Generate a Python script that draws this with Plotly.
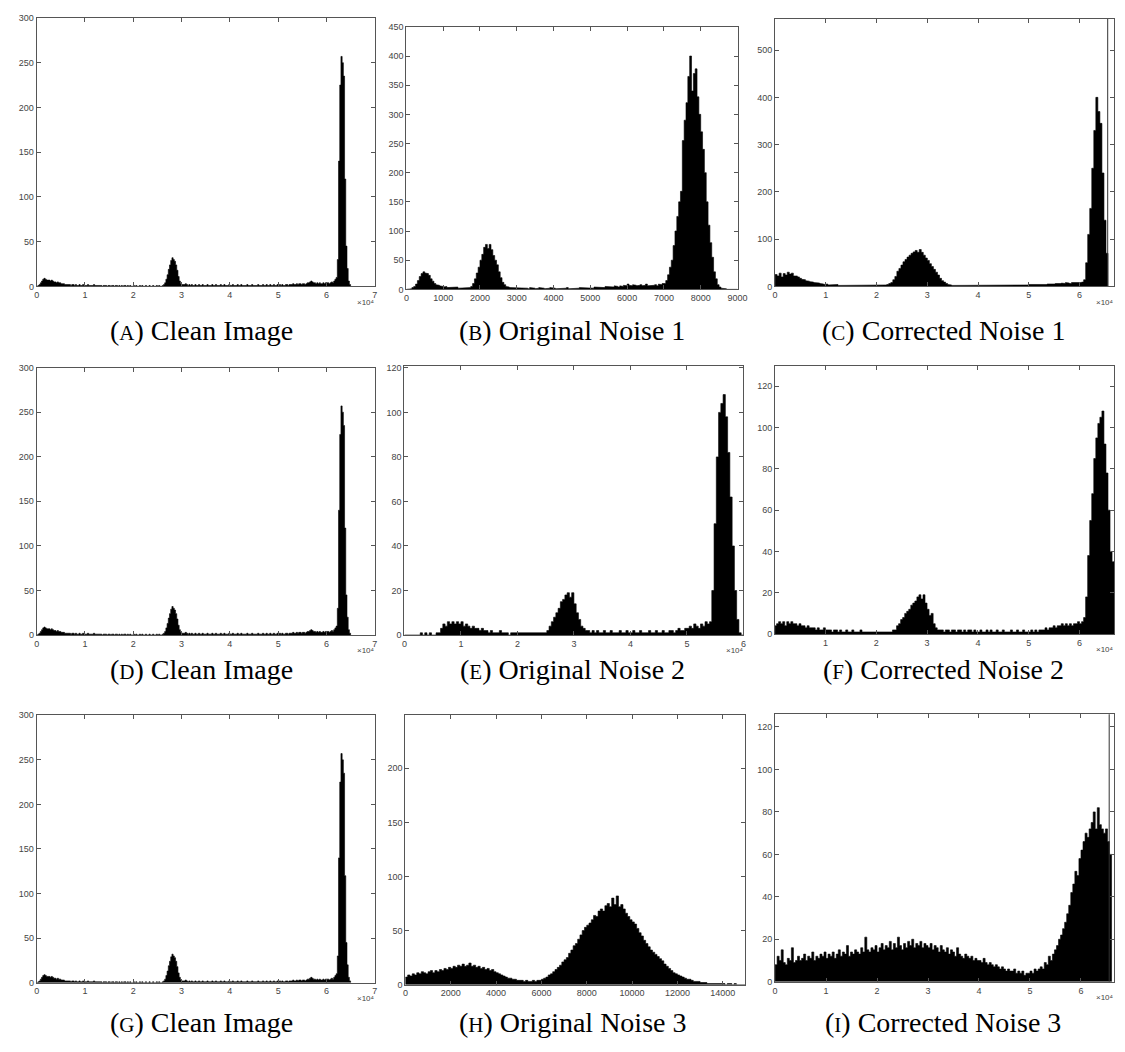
import plotly.graph_objects as go

W, H = 1125, 1052

# ---------------- data (histogram bin counts) ----------------
clean_start, clean_width = 0, 250
clean_counts = [
    0, 1, 2, 4, 6, 8, 9, 8, 7, 7, 7, 6, 7, 6, 5, 5, 4, 5, 4, 4,
    3, 3, 3, 2, 2, 2, 2, 2, 1, 2, 2, 1, 2, 1, 1, 2, 1, 1, 2, 1,
    1, 1, 2, 1, 1, 1, 1, 2, 1, 1, 1, 1, 1, 1, 0, 1, 1, 1, 0, 1,
    1, 0, 1, 1, 0, 1, 1, 0, 1, 0, 1, 0, 1, 1, 0, 1, 0, 1, 0, 0,
    1, 0, 1, 0, 0, 1, 0, 1, 0, 0, 1, 0, 0, 1, 0, 0, 1, 0, 0, 1,
    0, 1, 0, 0, 1, 2, 4, 8, 13, 19, 24, 29, 32, 30, 28, 24, 18, 11, 6, 3,
    2, 2, 2, 3, 2, 1, 2, 1, 2, 1, 1, 2, 1, 1, 2, 1, 1, 2, 1, 1,
    1, 2, 1, 1, 1, 2, 1, 1, 2, 1, 1, 1, 2, 1, 1, 2, 1, 1, 1, 2,
    1, 1, 2, 1, 1, 1, 2, 1, 1, 2, 1, 1, 1, 1, 2, 1, 1, 1, 2, 1,
    1, 1, 1, 2, 1, 1, 1, 2, 1, 1, 2, 1, 1, 2, 1, 1, 2, 1, 1, 2,
    1, 2, 1, 2, 1, 1, 2, 2, 1, 2, 2, 2, 3, 2, 2, 3, 2, 3, 3, 2,
    3, 3, 2, 3, 4, 4, 5, 6, 5, 4, 4, 3, 4, 3, 4, 3, 3, 4, 3, 4,
    4, 4, 3, 4, 5, 4, 6, 8, 10, 30, 140, 225, 257, 250, 235, 120, 45, 20, 6, 2,
]

noise1_start, noise1_width = 0, 50
noise1_counts = [
    0, 0, 1, 3, 5, 9, 15, 22, 27, 30, 28, 27, 24, 18, 14, 10, 8, 7, 6, 5,
    4, 5, 3, 4, 4, 3, 3, 4, 2, 3, 3, 2, 3, 2, 3, 5, 10, 18, 28, 38,
    50, 60, 72, 77, 70, 77, 68, 58, 50, 42, 30, 20, 12, 8, 5, 4, 3, 3, 2, 3,
    2, 3, 2, 2, 3, 2, 1, 3, 2, 2, 1, 2, 3, 2, 2, 1, 2, 2, 3, 2,
    2, 1, 2, 2, 1, 2, 2, 3, 1, 2, 2, 1, 2, 2, 3, 2, 2, 2, 3, 2,
    3, 2, 4, 3, 3, 4, 4, 3, 5, 4, 4, 5, 4, 6, 5, 4, 6, 5, 7, 6,
    9, 7, 6, 8, 7, 6, 7, 8, 6, 7, 9, 6, 7, 6, 7, 8, 6, 9, 8, 10,
    10, 15, 25, 38, 50, 75, 100, 125, 150, 168, 255, 290, 320, 365, 400, 340, 370, 378, 330, 300,
    270, 240, 200, 150, 110, 80, 55, 30, 18, 8, 4, 2, 1, 1, 0, 0, 0, 0, 0, 0,
]

corr1_start, corr1_width = 0, 400
corr1_counts = [
    25, 22, 28, 20, 27, 24, 30, 26, 28, 22, 22, 20, 17, 15, 14, 12, 11, 10, 9, 8, 8, 7, 6, 5, 4,
    5, 3, 4, 3, 3, 4, 2, 3, 3, 2, 3, 3, 2, 3, 2, 2, 3, 2, 2, 3, 2, 2, 3, 2, 2,
    2, 3, 2, 2, 3, 4, 6, 8, 14, 21, 32, 38, 45, 52, 57, 62, 66, 70, 73, 76, 72, 78, 72, 66, 60,
    55, 48, 42, 36, 30, 24, 17, 12, 9, 6, 4, 3, 2, 3, 2, 2, 3, 2, 2, 3, 2, 2, 2, 3, 2,
    2, 3, 2, 2, 2, 3, 2, 2, 3, 2, 2, 2, 3, 2, 2, 3, 2, 2, 2, 3, 2, 3, 2, 2, 3,
    4, 3, 3, 4, 3, 4, 4, 3, 4, 5, 4, 5, 5, 6, 5, 6, 7, 6, 8, 7, 6, 8, 7, 7, 8,
    8, 9, 14, 50, 110, 165, 250, 330, 400, 370, 345, 240, 140, 70,
]
corr1_saturated_bin = 65535
corr1_saturated_count = 5000

noise2_start, noise2_width = 0, 400
noise2_counts = [
    0, 0, 0, 0, 0, 0, 0, 1, 0, 1, 0, 1, 0, 0, 1, 1, 3, 5, 4, 6, 5, 6, 5, 6, 5,
    6, 4, 5, 4, 3, 4, 3, 3, 2, 3, 2, 2, 1, 2, 1, 1, 1, 2, 1, 1, 1, 0, 1, 1, 1,
    1, 1, 1, 1, 1, 1, 1, 1, 1, 1, 1, 1, 1, 2, 4, 6, 8, 10, 12, 15, 16, 18, 19, 17, 19,
    14, 10, 7, 4, 3, 2, 2, 1, 2, 1, 2, 1, 1, 2, 1, 1, 2, 1, 1, 1, 2, 1, 1, 2, 1,
    1, 2, 1, 1, 2, 1, 1, 1, 2, 1, 1, 2, 1, 1, 2, 1, 1, 2, 2, 1, 2, 3, 2, 2, 3,
    3, 4, 3, 5, 4, 3, 5, 4, 6, 5, 6, 20, 50, 80, 100, 104, 108, 98, 82, 62, 40, 20, 7, 1, 0,
]

corr2_start, corr2_width = 0, 400
corr2_counts = [
    4, 5, 6, 5, 6, 4, 6, 5, 6, 5, 5, 4, 5, 4, 4, 3, 4, 3, 3, 3, 2, 3, 2, 2, 3,
    2, 2, 2, 1, 2, 2, 1, 2, 1, 1, 2, 1, 1, 2, 1, 1, 1, 2, 1, 1, 1, 1, 1, 1, 1,
    1, 1, 1, 1, 1, 1, 1, 1, 2, 2, 4, 5, 7, 8, 10, 11, 12, 14, 15, 16, 18, 19, 17, 19, 15,
    12, 9, 10, 5, 3, 2, 2, 2, 1, 2, 2, 1, 2, 2, 1, 2, 2, 1, 2, 1, 2, 2, 1, 2, 1,
    1, 2, 1, 1, 2, 1, 2, 1, 1, 2, 1, 1, 2, 1, 1, 1, 2, 1, 1, 2, 1, 1, 2, 1, 1,
    1, 2, 1, 2, 1, 2, 2, 2, 3, 2, 3, 3, 4, 3, 4, 4, 5, 4, 5, 4, 5, 4, 5, 5, 6,
    5, 6, 8, 18, 38, 55, 68, 85, 95, 102, 105, 108, 92, 78, 60, 40, 35,
]

noise3_start, noise3_width = 0, 100
noise3_counts = [
    7, 9, 8, 10, 9, 11, 10, 12, 11, 10, 12, 13, 11, 13, 12, 14, 13, 15, 14, 16,
    15, 17, 16, 18, 17, 19, 17, 18, 20, 17, 18, 16, 17, 15, 16, 14, 15, 13, 14, 12,
    11, 10, 9, 8, 7, 6, 6, 5, 5, 4, 4, 4, 3, 4, 3, 3, 4, 3, 4, 4,
    5, 6, 7, 9, 10, 12, 14, 16, 18, 21, 23, 25, 29, 32, 36, 38, 42, 46, 50, 53,
    55, 57, 60, 64, 63, 68, 70, 68, 73, 75, 72, 80, 74, 82, 72, 74, 70, 66, 63, 60,
    58, 56, 52, 48, 45, 41, 38, 35, 32, 30, 28, 26, 24, 22, 19, 17, 15, 13, 11, 10,
    9, 8, 7, 6, 5, 5, 4, 3, 3, 3, 2, 2, 2, 1, 1, 1, 1, 1, 1, 1,
    1, 0, 1, 1, 0, 1, 0, 0, 0, 0,
]

corr3_start, corr3_width = 0, 400
corr3_counts = [
    8, 12, 10, 15, 9, 8, 11, 10, 16, 9, 10, 12, 10, 11, 13, 10, 12, 11, 14, 10, 12, 11, 13, 12, 14,
    11, 13, 12, 14, 11, 13, 15, 12, 14, 13, 17, 12, 14, 13, 15, 14, 13, 16, 14, 21, 15, 14, 16, 15, 17,
    14, 16, 18, 15, 17, 16, 19, 15, 18, 16, 21, 17, 15, 18, 16, 19, 17, 20, 16, 18, 17, 19, 16, 18, 17,
    16, 18, 15, 17, 16, 14, 17, 15, 14, 16, 13, 15, 14, 12, 16, 13, 12, 11, 13, 12, 11, 12, 10, 11, 10,
    10, 9, 11, 9, 8, 9, 8, 7, 8, 7, 6, 7, 6, 5, 6, 5, 5, 6, 4, 5, 4, 5, 3, 4, 4,
    5, 4, 6, 5, 6, 7, 6, 9, 8, 12, 10, 13, 15, 17, 20, 22, 25, 28, 32, 36, 42, 46, 52, 50, 58,
    62, 66, 70, 68, 72, 75, 80, 72, 82, 74, 72, 70, 72, 66, 60,
]
corr3_saturated_bin = 65535
corr3_saturated_count = 5000

captions = [
    ("A", "Clean Image"), ("B", "Original Noise 1"), ("C", "Corrected Noise 1"),
    ("D", "Clean Image"), ("E", "Original Noise 2"), ("F", "Corrected Noise 2"),
    ("G", "Clean Image"), ("H", "Original Noise 3"), ("I", "Corrected Noise 3"),
]

x_e4_ticks7 = [0, 10000, 20000, 30000, 40000, 50000, 60000, 70000]
x_e4_labels7 = ["0", "1", "2", "3", "4", "5", "6", "7"]
x_e4_ticks6 = [0, 10000, 20000, 30000, 40000, 50000, 60000]
x_e4_labels6 = ["0", "1", "2", "3", "4", "5", "6"]
x_b_ticks = [0, 1000, 2000, 3000, 4000, 5000, 6000, 7000, 8000, 9000]
x_h_ticks = [0, 2000, 4000, 6000, 8000, 10000, 12000, 14000]

# ---------------- layout of the nine panels (pixel boxes: left, right, top, bottom) ----------------
panels = [
    dict(data=(clean_start, clean_width, clean_counts), box=(26, 368, 5, 276),
         xr=[0, 70000], yr=[0, 300], xt=x_e4_ticks7, xl=x_e4_labels7,
         yt=[0, 50, 100, 150, 200, 250, 300], e4=True),
    dict(data=(noise1_start, noise1_width, noise1_counts), box=(400, 735, 14, 279),
         xr=[0, 9000], yr=[0, 450], xt=x_b_ticks, xl=[str(v) for v in x_b_ticks],
         yt=[0, 50, 100, 150, 200, 250, 300, 350, 400, 450], e4=False),
    dict(data=(corr1_start, corr1_width, corr1_counts), box=(773, 1116, 6, 276),
         xr=[0, 66800], yr=[0, 566], xt=x_e4_ticks6, xl=x_e4_labels6,
         yt=[0, 100, 200, 300, 400, 500], e4=True,
         sat=(corr1_saturated_bin, corr1_saturated_count)),
    dict(data=(clean_start, clean_width, clean_counts), box=(26, 368, 358, 628),
         xr=[0, 70000], yr=[0, 300], xt=x_e4_ticks7, xl=x_e4_labels7,
         yt=[0, 50, 100, 150, 200, 250, 300], e4=True),
    dict(data=(noise2_start, noise2_width, noise2_counts), box=(398, 741, 356, 628),
         xr=[0, 60000], yr=[0, 121], xt=x_e4_ticks6, xl=x_e4_labels6,
         yt=[0, 20, 40, 60, 80, 100, 120], e4=True),
    dict(data=(corr2_start, corr2_width, corr2_counts), box=(773, 1116, 356, 627),
         xr=[100, 66800], yr=[0, 130], xt=x_e4_ticks6[1:], xl=x_e4_labels6[1:],
         yt=[0, 20, 40, 60, 80, 100, 120], e4=True),
    dict(data=(clean_start, clean_width, clean_counts), box=(26, 368, 709, 979),
         xr=[0, 70000], yr=[0, 300], xt=x_e4_ticks7, xl=x_e4_labels7,
         yt=[0, 50, 100, 150, 200, 250, 300], e4=True),
    dict(data=(noise3_start, noise3_width, noise3_counts), box=(399, 743, 709, 981),
         xr=[0, 15000], yr=[0, 249], xt=x_h_ticks, xl=[str(v) for v in x_h_ticks],
         yt=[0, 50, 100, 150, 200], e4=False),
    dict(data=(corr3_start, corr3_width, corr3_counts), box=(773, 1116, 708, 978),
         xr=[0, 66500], yr=[0, 126], xt=x_e4_ticks6, xl=x_e4_labels6,
         yt=[0, 20, 40, 60, 80, 100, 120], e4=True,
         sat=(corr3_saturated_bin, corr3_saturated_count)),
]

caption_pos = [(193, 321), (568, 321), (943, 321),
               (193, 663), (568, 663), (943, 663),
               (193, 1019), (568, 1019), (943, 1019)]


def step_outline(start, width, counts):
    xs, ys = [start], [0]
    for i, c in enumerate(counts):
        x0 = start + i * width
        xs += [x0, x0 + width]
        ys += [c, c]
    xs.append(start + len(counts) * width)
    ys.append(0)
    return xs, ys


fig = go.Figure()
layout = dict(width=W, height=H, margin=dict(l=0, r=0, t=0, b=0), autosize=False,
              paper_bgcolor="white", plot_bgcolor="white", showlegend=False)
annotations = []
axis_col = "#555555"
tick_font = dict(family="Liberation Sans, Arial, sans-serif", size=9, color="#444444")

for k, p in enumerate(panels):
    n = k + 1
    sx = "" if n == 1 else str(n)
    left, right, top, bottom = p["box"]
    xs, ys = step_outline(*p["data"])
    fig.add_trace(go.Scatter(x=xs, y=ys, mode="lines", fill="tozeroy",
                             fillcolor="black", line=dict(color="black", width=0.6),
                             xaxis="x" + sx, yaxis="y" + sx, hoverinfo="skip"))
    if "sat" in p:
        bx, bc = p["sat"]
        fig.add_trace(go.Scatter(x=[bx, bx], y=[0, bc], mode="lines",
                                 line=dict(color="#333333", width=1),
                                 xaxis="x" + sx, yaxis="y" + sx, hoverinfo="skip"))
    common = dict(showgrid=False, zeroline=False, showline=True, linecolor=axis_col,
                  linewidth=1, mirror="ticks", ticks="inside", ticklen=4,
                  tickcolor=axis_col, tickwidth=1, tickfont=tick_font)
    layout["xaxis" + sx] = dict(domain=[left / W, right / W], range=p["xr"],
                                tickmode="array", tickvals=p["xt"], ticktext=p["xl"],
                                anchor="y" + sx, **common)
    layout["yaxis" + sx] = dict(domain=[1 - bottom / H, 1 - top / H], range=p["yr"],
                                tickmode="array", tickvals=p["yt"],
                                ticktext=[str(v) for v in p["yt"]],
                                anchor="x" + sx, **common)
    if p["e4"]:
        annotations.append(dict(x=(right - 9) / W, y=1 - (bottom + 16) / H,
                                xref="paper", yref="paper", showarrow=False,
                                text="×10⁴", xanchor="center", yanchor="middle",
                                font=dict(family="Liberation Sans, Arial, sans-serif",
                                          size=8, color="#444444")))
    letter, title = captions[k]
    cx, cy = caption_pos[k]
    annotations.append(dict(x=cx / W, y=1 - cy / H, xref="paper", yref="paper",
                            showarrow=False, xanchor="center", yanchor="middle",
                            text="(<span style='font-size:21px'>" + letter + "</span>) " + title,
                            font=dict(family="Liberation Serif, Times New Roman, serif",
                                      size=28, color="black")))

layout["annotations"] = annotations
fig.update_layout(**layout)
fig.write_html("out.html")
